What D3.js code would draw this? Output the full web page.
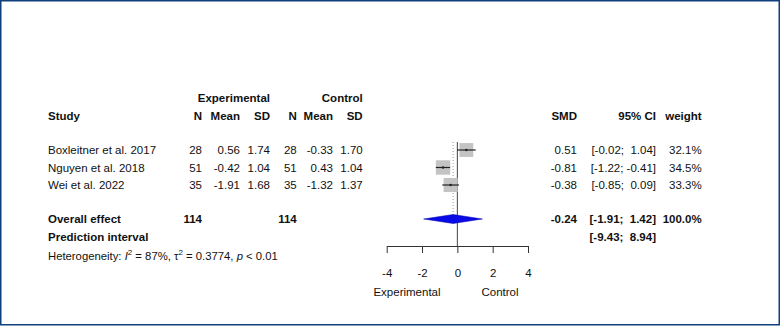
<!DOCTYPE html>
<html><head><meta charset="utf-8">
<script src="https://cdn.jsdelivr.net/npm/d3@7"></script>
<style>body{margin:0;background:#fff}svg text{font-family:"Liberation Sans",Arial,sans-serif;white-space:pre}</style>
</head><body>
<svg id="c" width="781" height="326"></svg>
<script>
const studies = ["Boxleitner et al. 2017","Nguyen et al. 2018","Wei et al. 2022"];
const expN = [28,51,35];
const expMean = [0.56,-0.42,-1.91];
const expSD = [1.74,1.04,1.68];
const ctrlN = [28,51,35];
const ctrlMean = [-0.33,0.43,-1.32];
const ctrlSD = [1.70,1.04,1.37];
const smd = [0.51,-0.81,-0.38];
const ciLow = [-0.02,-1.22,-0.85];
const ciHigh = [1.04,-0.41,0.09];
const weight = [32.1,34.5,33.3];
const overall = [-0.24,-1.91,1.42];
const overallN = [114,114];
const predInt = [-9.43,8.94];
const het = {I2:"87%", tau2:"0.3774", p:"< 0.01"};
const tickVals = [-4,-2,0,2,4];

const svg = d3.select("#c");
svg.append("rect").attr("x",0.75).attr("y",0.75).attr("width",778.5).attr("height",324)
  .attr("fill","none").attr("stroke","#0f3f7c").attr("stroke-width",1.5);

const x = d3.scaleLinear().domain([-4,4]).range([386.7,528]);
const rowY = d3.scalePoint().domain(studies).range([150,185]);
const yOverall = 219, yPred = 237, yHet = 256, yHead1 = 98, yHead2 = 116;
const f2 = v => v.toFixed(2);
const fs = 11.5;

function txt(xp, yp, s, anchor, bold, size){
  return svg.append("text").attr("x",xp).attr("y",yp).attr("dy","0.35em")
    .attr("text-anchor",anchor||"start").attr("font-weight",bold?"bold":"normal")
    .attr("font-size",size||fs).attr("fill","#111").text(s);
}
const col = {study:48, eN:202, eM:240, eS:270, cN:296.7, cM:333, cS:362.7, smd:577, ci:656, w:701.7};

txt(col.eS, yHead1, "Experimental", "end", true);
txt(col.cS, yHead1, "Control", "end", true);
txt(col.study, yHead2, "Study", "start", true);
[["N",col.eN],["Mean",col.eM],["SD",col.eS],["N",col.cN],["Mean",col.cM],["SD",col.cS]]
  .forEach(d=>txt(d[1], yHead2, d[0], "end", true));
txt(col.smd, yHead2, "SMD", "end", true);
txt(col.ci, yHead2, "95% CI", "end", true);
txt(col.w, yHead2, "weight", "end", true);

function ciStr(lo,hi){
  return "[" + (lo<0?"":" ") + f2(lo) + "; " + (hi<0?"":" ") + f2(hi) + "]";
}

studies.forEach((s,i)=>{
  const y = rowY(s);
  txt(col.study, y, s);
  txt(col.eN, y, expN[i], "end");
  txt(col.eM, y, f2(expMean[i]), "end");
  txt(col.eS, y, f2(expSD[i]), "end");
  txt(col.cN, y, ctrlN[i], "end");
  txt(col.cM, y, f2(ctrlMean[i]), "end");
  txt(col.cS, y, f2(ctrlSD[i]), "end");
  txt(col.smd, y, f2(smd[i]), "end");
  txt(col.ci, y, ciStr(ciLow[i],ciHigh[i]), "end");
  txt(col.w, y, weight[i].toFixed(1)+"%", "end");
});
txt(col.study, yOverall, "Overall effect", "start", true);
txt(col.eN, yOverall, overallN[0], "end", true);
txt(col.cN, yOverall, overallN[1], "end", true);
txt(col.smd, yOverall, f2(overall[0]), "end", true);
txt(col.ci, yOverall, ciStr(overall[1],overall[2]), "end", true);
txt(col.w, yOverall, "100.0%", "end", true);
txt(col.study, yPred, "Prediction interval", "start", true);
txt(col.ci, yPred, ciStr(predInt[0],predInt[1]), "end", true);

const h = svg.append("text").attr("x",col.study).attr("y",yHet).attr("dy","0.35em")
  .attr("font-size",11.3).attr("fill","#111");
h.append("tspan").text("Heterogeneity: ");
h.append("tspan").attr("font-style","italic").text("I");
h.append("tspan").attr("font-size",8).attr("dy","-4.5").text("2");
h.append("tspan").attr("dy","4.5").text(" = "+het.I2+", ");
h.append("tspan").text("\u03c4");
h.append("tspan").attr("font-size",8).attr("dy","-4.5").text("2");
h.append("tspan").attr("dy","4.5").text(" = "+het.tau2+", ");
h.append("tspan").attr("font-style","italic").text("p");
h.append("tspan").text(" "+het.p);

const yTop = 142, yAxis = 246;
svg.append("line").attr("x1",x(0)).attr("x2",x(0)).attr("y1",yTop).attr("y2",yAxis)
  .attr("stroke","#444").attr("stroke-width",1);
svg.append("line").attr("x1",x(overall[0])).attr("x2",x(overall[0])).attr("y1",yTop).attr("y2",yOverall-4)
  .attr("stroke","#999").attr("stroke-width",1).attr("stroke-dasharray","1,2");

const sz = d3.scaleSqrt().domain([0,35]).range([0,14.5]);
studies.forEach((s,i)=>{
  const y = rowY(s), w = sz(weight[i]);
  svg.append("rect").attr("x",x(smd[i])-w/2).attr("y",y-w/2).attr("width",w).attr("height",w)
    .attr("fill","#c4c4c4");
  svg.append("line").attr("x1",x(ciLow[i])).attr("x2",x(ciHigh[i])).attr("y1",y).attr("y2",y)
    .attr("stroke","#222").attr("stroke-width",1.2);
  svg.append("circle").attr("cx",x(smd[i])).attr("cy",y).attr("r",1.2).attr("fill","#222");
});
const dh = 4.5;
svg.append("path").attr("d",`M${x(overall[1])},${yOverall}L${x(overall[0])},${yOverall-dh}L${x(overall[2])},${yOverall}L${x(overall[0])},${yOverall+dh}Z`)
  .attr("fill","#0a0ae6").attr("stroke","#0000b0").attr("stroke-width",0.5);

const ax = svg.append("g").attr("transform",`translate(0,${yAxis})`)
  .call(d3.axisBottom(x).tickValues(tickVals).tickSize(7).tickPadding(16).tickFormat(d=>String(d)).tickSizeOuter(0));
ax.select(".domain").attr("stroke","#333");
ax.selectAll(".tick line").attr("stroke","#333");
ax.selectAll("text").attr("font-size",fs).attr("fill","#111").attr("font-family",'"Liberation Sans",Arial,sans-serif');
txt(407, 291.5, "Experimental", "middle");
txt(500, 291.5, "Control", "middle");
</script>
</body></html>
